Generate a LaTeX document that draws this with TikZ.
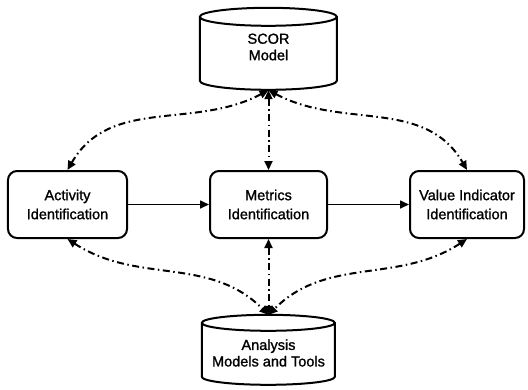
\documentclass[tikz,border=0pt]{standalone}
\usepackage{fontspec}
\setmainfont{Liberation Sans}
\newfontfamily\labfont{Liberation Sans}[FakeBold=1.2]
\usetikzlibrary{arrows.meta}
\begin{document}
\begin{tikzpicture}[x=1bp,y=1bp,
  txt/.style={font=\labfont\fontsize{14.5bp}{19bp}\selectfont, align=center},
  cyltxt/.style={font=\labfont\fontsize{14.5bp}{16.5bp}\selectfont, align=center},
  box/.style={draw, line width=2bp, rounded corners=9bp, minimum height=67bp, inner sep=0pt, txt},
  cylframe/.style={inner sep=0pt, minimum height=82bp},
  cylline/.style={draw, line width=2bp},
  flow/.style={line width=1.6bp, -{Triangle[length=9bp,width=8bp]}},
  link/.style={line width=2bp, dash pattern=on 7bp off 3.5bp on 1.5bp off 3.5bp,
    {Triangle[length=9bp,width=8bp]}-{Triangle[length=9bp,width=8bp]}}
]
\useasboundingbox (0,0) rectangle (528,389);

% cylinders (named frames)
\node[cylframe, minimum width=137bp] (scor) at (268.5,340) {};
\node[cylframe, minimum width=133bp, minimum height=70bp] (ana) at (268.5,39) {};
\draw[cylline] (scor.north west) ++(0,-9) arc[start angle=180, end angle=540, x radius=68.5, y radius=9]
  -- ++(0,-64) arc[start angle=180, end angle=360, x radius=68.5, y radius=9] -- ++(0,64);
\draw[cylline] (ana.north west) ++(0,-8) arc[start angle=180, end angle=540, x radius=66.5, y radius=8]
  -- ++(0,-54) arc[start angle=180, end angle=360, x radius=66.5, y radius=8] -- ++(0,54);
\node[cyltxt] (scort) at (268.5,342) {SCOR\\Model};
\node[cyltxt] (anat) at (268.5,36) {Analysis\\Models and Tools};

% process boxes
\node[box, minimum width=119bp] (act) at (67.5,184.5) {Activity\\Identification};
\node[box, minimum width=117bp] (met) at (268.5,184.5) {Metrics\\Identification};
\node[box, minimum width=114bp] (val) at (467,184.5) {Value Indicator\\Identification};

% solid flow
\draw[flow] (act.east) -- (met.west);
\draw[flow] (met.east) -- (val.west);

% dash-dot links
\draw[link] (scor.south) to[out=208, in=60] (act.north);
\draw[link] (scor.south) -- (met.north);
\draw[link] (scor.south) to[out=-28, in=120] (val.north);
\draw[link] (act.south) to[out=-33, in=135] (ana.north);
\draw[link] (met.south) -- (ana.north);
\draw[link] (val.south) to[out=213, in=45] (ana.north);
\end{tikzpicture}
\end{document}
